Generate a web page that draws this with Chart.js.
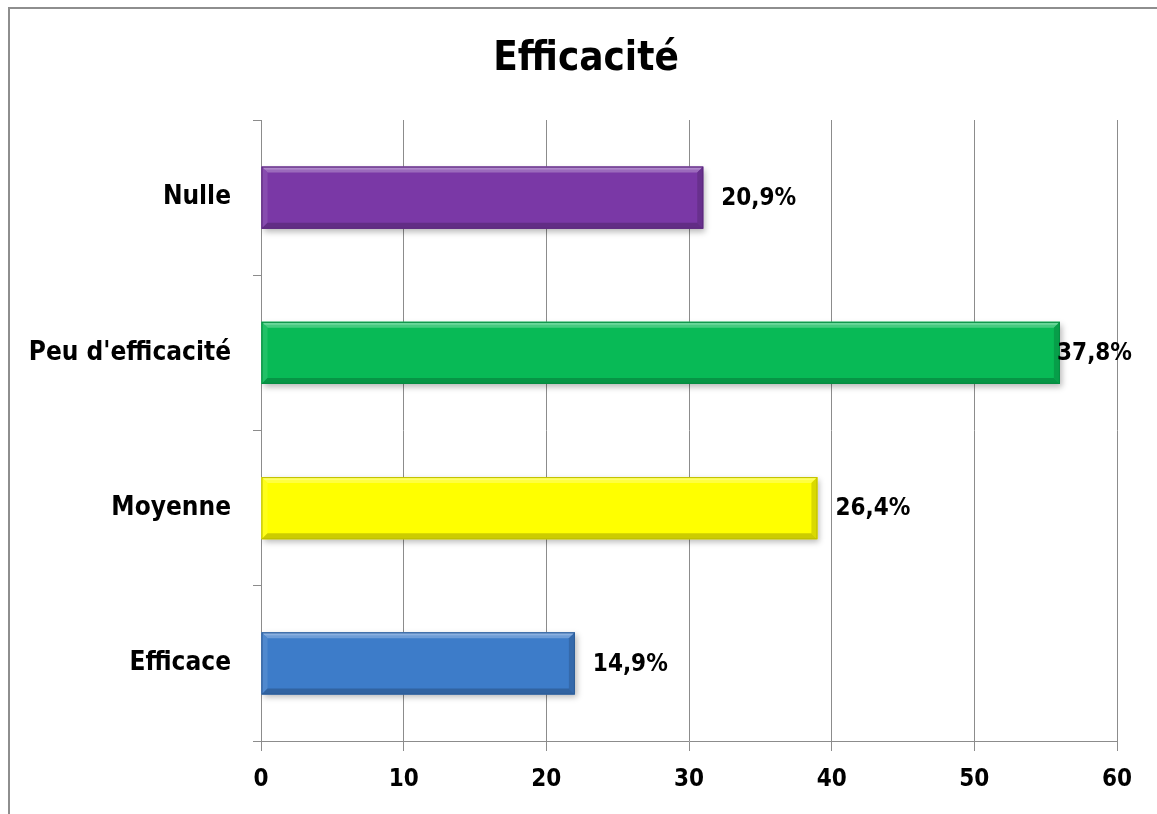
<!DOCTYPE html>
<html>
<head>
<meta charset="utf-8">
<script src="https://cdn.jsdelivr.net/npm/chart.js@4"></script>
<style>
  html, body { margin: 0; padding: 0; background: #ffffff; }
  #wrap { position: relative; width: 1157px; height: 814px; overflow: hidden; }
  #c { position: absolute; left: 0; top: 0; }
  #frame {
    position: absolute; left: 8px; top: 7px; right: -4px; bottom: -4px;
    border-left: 2px solid #8e8e8e; border-top: 2px solid #8e8e8e;
    pointer-events: none;
  }
</style>
</head>
<body>
<div id="wrap">
  <canvas id="c" width="1157" height="814"></canvas>
  <div id="frame"></div>
</div>
<script>
// Survey answers: number of respondents per rating
const categories = ['Nulle', "Peu d'efficacité", 'Moyenne', 'Efficace'];
const counts = [31, 56, 39, 22];
const xTicks = [0, 10, 20, 30, 40, 50, 60];
const barColors = ['#7a38a6', '#08ba56', '#ffff00', '#3d7cc9'];
const chartTitle = 'Efficacité';

const FONT = '"Liberation Sans Narrow", "DejaVu Sans Condensed", "Open Sans", sans-serif';
const total = counts.reduce((a, b) => a + b, 0);
const pctLabels = counts.map(c => (c / total * 100).toFixed(1).replace('.', ',') + '%');

function mix(hex, target, t) {
  const n = parseInt(hex.slice(1), 16);
  const r = (n >> 16) & 255, g = (n >> 8) & 255, b = n & 255;
  const m = v => Math.round(v + (target - v) * t);
  return `rgb(${m(r)},${m(g)},${m(b)})`;
}

// Title centred over the framed panel
const panelTitle = {
  id: 'panelTitle',
  afterDraw(chart) {
    const ctx = chart.ctx;
    ctx.save();
    ctx.font = `bold 40px ${FONT}`;
    ctx.fillStyle = '#000000';
    ctx.textAlign = 'center';
    ctx.textBaseline = 'middle';
    ctx.fillText(chartTitle, (9 + chart.width + 6) / 2, 60);
    ctx.restore();
  }
};

// Soft drop shadow under the bars
const barShadow = {
  id: 'barShadow',
  beforeDatasetsDraw(chart) {
    const ctx = chart.ctx;
    ctx.save();
    ctx.shadowColor = 'rgba(0,0,0,0.28)';
    ctx.shadowBlur = 6;
    ctx.shadowOffsetX = 2;
    ctx.shadowOffsetY = 3;
  },
  afterDatasetsDraw(chart) {
    chart.ctx.restore();
  }
};

// Bevelled edges drawn on top of each bar
const barBevel = {
  id: 'barBevel',
  afterDatasetsDraw(chart) {
    const ctx = chart.ctx;
    const meta = chart.getDatasetMeta(0);
    meta.data.forEach((el, i) => {
      const base = barColors[i];
      const x0 = Math.min(el.base, el.x), x1 = Math.max(el.base, el.x);
      const y0 = el.y - el.height / 2, y1 = el.y + el.height / 2;
      const b = 6;
      ctx.save();
      // top highlight
      ctx.fillStyle = mix(base, 255, 0.25);
      ctx.beginPath();
      ctx.moveTo(x0, y0); ctx.lineTo(x1, y0); ctx.lineTo(x1 - b, y0 + b); ctx.lineTo(x0 + b, y0 + b);
      ctx.closePath(); ctx.fill();
      ctx.fillStyle = mix(base, 255, 0.4);
      ctx.fillRect(x0 + 2, y0 + 1, x1 - x0 - 4, 2);
      // left edge
      ctx.fillStyle = mix(base, 255, 0.1);
      ctx.beginPath();
      ctx.moveTo(x0, y0); ctx.lineTo(x0 + b, y0 + b); ctx.lineTo(x0 + b, y1 - b); ctx.lineTo(x0, y1);
      ctx.closePath(); ctx.fill();
      // right edge
      ctx.fillStyle = mix(base, 0, 0.15);
      ctx.beginPath();
      ctx.moveTo(x1, y0); ctx.lineTo(x1, y1); ctx.lineTo(x1 - b, y1 - b); ctx.lineTo(x1 - b, y0 + b);
      ctx.closePath(); ctx.fill();
      // bottom shade
      ctx.fillStyle = mix(base, 0, 0.2);
      ctx.beginPath();
      ctx.moveTo(x0, y1); ctx.lineTo(x1, y1); ctx.lineTo(x1 - b, y1 - b); ctx.lineTo(x0 + b, y1 - b);
      ctx.closePath(); ctx.fill();
      // outline
      ctx.strokeStyle = mix(base, 0, 0.25);
      ctx.lineWidth = 1;
      ctx.strokeRect(x0 + 0.5, y0 + 0.5, x1 - x0 - 1, y1 - y0 - 1);
      ctx.restore();
    });
  }
};

// Percentage labels at the end of each bar
const valueLabels = {
  id: 'valueLabels',
  afterDatasetsDraw(chart) {
    const ctx = chart.ctx;
    const meta = chart.getDatasetMeta(0);
    ctx.save();
    ctx.font = `bold 24px ${FONT}`;
    ctx.fillStyle = '#000000';
    ctx.textBaseline = 'middle';
    ctx.textAlign = 'left';
    meta.data.forEach((el, i) => {
      const text = pctLabels[i];
      const w = ctx.measureText(text).width;
      let x = el.x + 18;
      const maxRight = chart.width - 25;
      if (x + w > maxRight) x = maxRight - w;
      ctx.fillText(text, x, el.y + 1);
    });
    ctx.restore();
  }
};

new Chart(document.getElementById('c'), {
  type: 'bar',
  data: {
    labels: categories,
    datasets: [{
      data: counts,
      backgroundColor: barColors,
      borderWidth: 0,
      barPercentage: 0.4,
      categoryPercentage: 1.0
    }]
  },
  options: {
    indexAxis: 'y',
    responsive: false,
    animation: false,
    devicePixelRatio: 1,
    layout: { padding: { left: 0, right: 40, top: 120, bottom: 0 } },
    plugins: {
      legend: { display: false },
      tooltip: { enabled: false },
      title: { display: false }
    },
    scales: {
      x: {
        min: 0,
        max: 60,
        afterBuildTicks(scale) { scale.ticks = xTicks.map(v => ({ value: v })); },
        afterFit(scale) { scale.height = 73; },
        grid: { color: '#8c8c8c', lineWidth: 1, tickLength: 10, drawOnChartArea: true },
        border: { display: true, color: '#8c8c8c', width: 1 },
        ticks: {
          color: '#000000',
          padding: 14,
          font: { family: FONT, size: 24, weight: 'bold' }
        }
      },
      y: {
        afterFit(scale) { scale.width = 261; },
        grid: { offset: true, drawOnChartArea: false, color: '#8c8c8c', tickLength: 8 },
        border: { display: true, color: '#8c8c8c', width: 1 },
        ticks: {
          color: '#000000',
          padding: 22,
          font: { family: FONT, size: 26, weight: 'bold' }
        }
      }
    }
  },
  plugins: [panelTitle, barShadow, barBevel, valueLabels]
});
</script>
</body>
</html>
